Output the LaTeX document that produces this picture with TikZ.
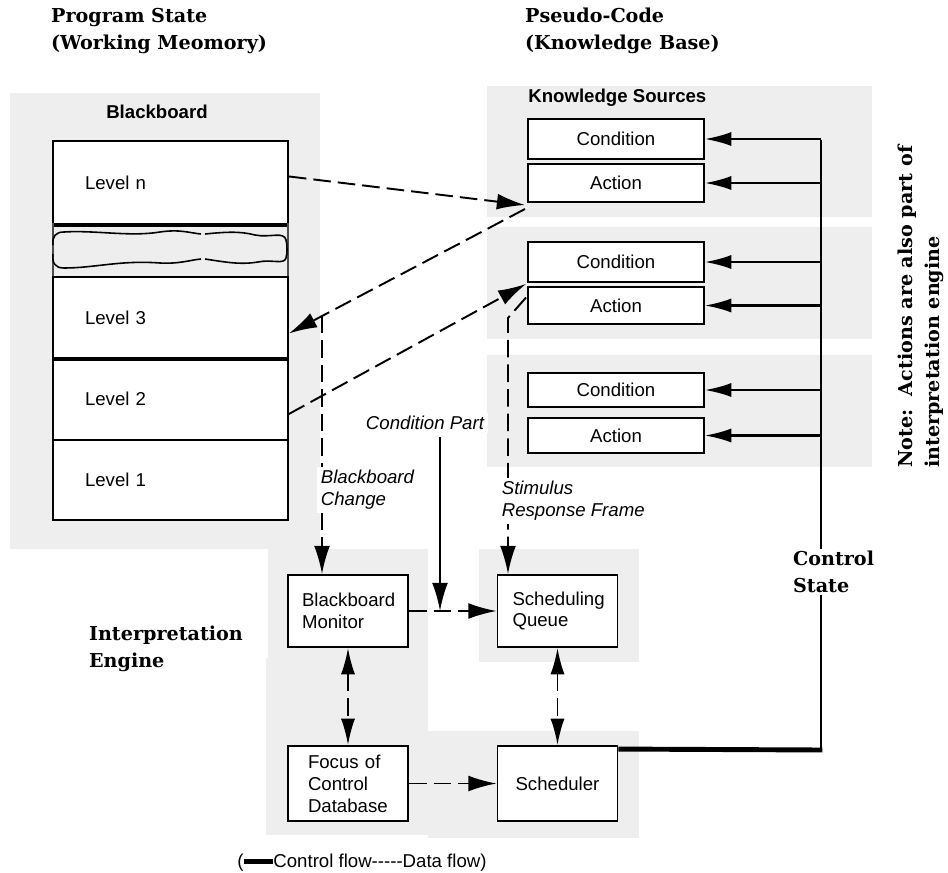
\documentclass[tikz,border=0pt]{standalone}
\usepackage{fontspec}
\setsansfont{Liberation Sans}
\newfontfamily\headfont{DejaVu Serif}
\usetikzlibrary{calc,positioning,arrows.meta}
\definecolor{panelgray}{HTML}{EEEEEE}
\newcommand{\diagsf}{\sffamily\fontsize{10.6}{12.5}\selectfont}
\newcommand{\diaghead}{\headfont\bfseries\fontsize{10.9}{15.4}\selectfont}

\begin{document}
\begin{tikzpicture}[x=0.02cm, y=-0.02cm,
    lvlbox/.style={rectangle, draw, line width=1.1pt, fill=white, minimum width=4.7cm,
        text width=3.42cm, inner xsep=0.64cm, inner ysep=0pt, align=left, anchor=north,
        font=\diagsf},
    ksbox/.style={rectangle, draw, line width=1.1pt, fill=white, minimum width=3.52cm,
        minimum height=0.76cm, inner sep=0pt, font=\diagsf},
    engbox/.style={rectangle, draw, line width=1.1pt, fill=white, minimum width=2.4cm,
        minimum height=1.44cm, inner xsep=0.28cm, inner ysep=0pt, text width=1.84cm,
        align=left, font=\diagsf},
    dflow/.style={draw, line width=1.1pt, dash pattern=on 10pt off 4pt,
        -{Latex[length=16pt,width=9pt]}},
    dboth/.style={dflow, {Latex[length=15pt,width=8pt]}-{Latex[length=15pt,width=8pt]}},
    cflow/.style={draw, line width=1.2pt, -{Latex[length=15pt,width=8pt]}},
    flowlabel/.style={font=\diagsf\itshape, align=left, fill=white, inner sep=2pt},
    heading/.style={font=\diaghead, align=left, inner sep=1pt},
    boldsf/.style={font=\diagsf\bfseries}
]
\useasboundingbox (0,0) rectangle (948,873);

% grey panels
\fill[panelgray] (10,93) rectangle (320,549);
\fill[panelgray] (487,86) rectangle (872,217);
\fill[panelgray] (487,227) rectangle (872,339);
\fill[panelgray] (487,355) rectangle (872,467);
\fill[panelgray] (268,549) rectangle (428,658);
\fill[panelgray] (266,658) rectangle (428,835);
\fill[panelgray] (479,549) rectangle (639,662);
\fill[panelgray] (428,731) rectangle (639,838);

% headings
\node (pstate) [heading, anchor=west] at (49,31) {Program State\\(Working Meomory)};
\node (pcode) [heading, anchor=west] at (523,31) {Pseudo-Code\\(Knowledge Base)};
\node (ieng) [heading, anchor=west] at (87,648.5) {Interpretation\\Engine};
\node (note) [heading, rotate=90, anchor=west] at (921,470)
    {Note:\ \ Actions are also part of\\interpretation engine};

% blackboard
\node (bbtitle) [boldsf] at (157,112) {Blackboard};
\node (lvln) [lvlbox, minimum height=1.66cm] at (170.5,140) {Level n};
\node (lvl3) [lvlbox, minimum height=1.62cm] at (170.5,276) {Level 3};
\node (lvl2) [lvlbox, minimum height=1.64cm] at (170.5,357) {Level 2};
\node (lvl1) [lvlbox, minimum height=1.6cm] at (170.5,439) {Level 1};
\draw[line width=1.8pt] (lvln.south west) -- (lvln.south east);
\draw[line width=2.5pt] (lvl3.south west) -- (lvl3.south east);
\draw[line width=0.6pt, black!70] (53,223) -- (53,276) (288,223) -- (288,276);
\draw[line width=0.9pt] (53,245) .. controls (52,236) and (56,232) .. (64,232)
    .. controls (95,230) and (130,237) .. (160,232) .. controls (180,229) and (190,233) .. (201,234);
\draw[line width=0.9pt] (205,234) .. controls (225,232) and (240,231) .. (255,235)
    .. controls (270,238) and (284,231) .. (286,240) .. controls (287,244) and (287,247) .. (287,250);
\draw[line width=0.9pt] (53,254) .. controls (52,263) and (55,268) .. (64,268)
    .. controls (95,268) and (120,260) .. (160,263) .. controls (180,264) and (190,260) .. (201,259);
\draw[line width=0.9pt] (205,259) .. controls (225,262) and (240,265) .. (258,262)
    .. controls (272,259) and (284,265) .. (286,258) .. controls (287,255) and (287,252) .. (287,250);

% knowledge sources
\node (kstitle) [boldsf, anchor=west, inner sep=0pt] at (528,98) {Knowledge Sources};
\node (c1) [ksbox, minimum height=0.8cm] at (616,139) {Condition};
\node (a1) [ksbox] at (616,183) {Action};
\node (c2) [ksbox, minimum height=0.8cm] at (616,262) {Condition};
\node (a2) [ksbox, minimum height=0.74cm] at (616,305.5) {Action};
\node (c3) [ksbox, minimum height=0.68cm] at (616,390) {Condition};
\node (a3) [ksbox, minimum height=0.7cm] at (616,435.5) {Action};

% interpretation engine
\node (bm) [engbox] at (348,611) {Blackboard\\Monitor};
\node (sq) [engbox, inner xsep=0.3cm, text width=1.8cm] at (557.5,611) {Scheduling\\Queue};
\node (fcd) [engbox, minimum height=1.5cm, inner xsep=0.4cm, text width=1.6cm] at (348,783.5)
    {Focus of\\Control\\Database};
\node (sched) [engbox, minimum height=1.5cm, align=center] at (557.5,783.5) {Scheduler};

% data flow
\coordinate (ksin) at (525,205);
\coordinate (ksout) at (525,209);
\coordinate (bcstart) at (322,315.5);
\coordinate (srbend) at (508,318);
\draw[dflow] ($(lvln.east)+(0,-6)$) -- (ksin);
\draw[dflow] (ksout) -- ($(lvl3.east)+(0,16)$);
\draw[dflow] ($(lvl2.east)+(0,15)$) -- ($(c2.south west)+(-1,1)$);
\draw[dflow] (bcstart) -- (bcstart |- bm.north);
\draw[dflow] ($(a2.west)+(-1,-8)$) -- (srbend) -- (srbend |- sq.north);
\draw[dflow] (bm.east) -- (sq.west);
\draw[dboth] (bm.south) -- (fcd.north);
\draw[dboth] (sq.south) -- (sched.north);
\draw[dflow] (fcd.east) -- (sched.west);
\node (bclabel) [flowlabel, anchor=west] at (317,490) {Blackboard\\Change};
\node (srlabel) [flowlabel, anchor=west] at (498,501) {Stimulus\\Response Frame};

% control flow
\node (cplabel) [flowlabel] at (425,423) {Condition Part};
\coordinate (cpstart) at (440,437);
\draw[cflow, -{Latex[length=16pt,width=9pt]}] (cpstart) -- (cpstart |- bm.east);
\coordinate (ctltop) at (821,140);
\coordinate (ctlbend) at (821,750);
\draw[line width=2.8pt] ($(sched.north east)+(0,4)$) -- ($(ctlbend)+(1.3,0)$);
\draw[line width=1.5pt] (ctltop) -- (ctlbend);
\foreach \ks in {c1,a1,c2,a2,c3,a3}
  \draw[cflow] (ctltop |- \ks.east) -- (\ks.east);
\node (ctlstate) [heading, fill=white, anchor=west] at (791,572) {Control\\State};

% legend
\node (legend) [font=\diagsf, anchor=west, inner sep=0pt] at (237,863)
    {(\rule[2pt]{17pt}{2.8pt}Control flow-{}-{}-{}-{}-Data flow)};
\end{tikzpicture}
\end{document}
